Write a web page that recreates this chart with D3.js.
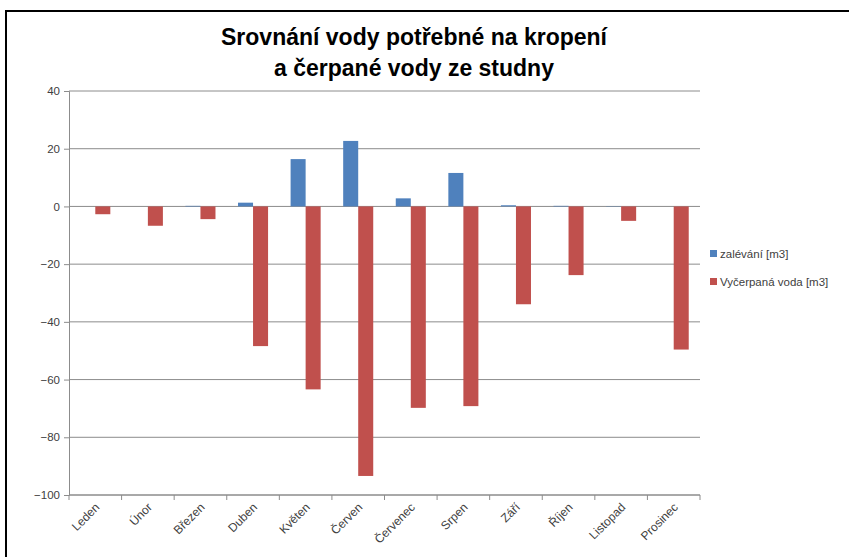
<!DOCTYPE html>
<html>
<head>
<meta charset="utf-8">
<script src="https://cdn.jsdelivr.net/npm/d3@7"></script>
<style>
  body { margin: 0; background: #fff; }
  svg { display: block; font-family: "Liberation Sans", Arial, sans-serif; }
</style>
</head>
<body>
<div id="chart"></div>
<script>
// Data
const months = ["Leden", "Únor", "Březen", "Duben", "Květen", "Červen",
  "Červenec", "Srpen", "Září", "Říjen", "Listopad", "Prosinec"];
const watering = [0, 0, 0.2, 1.3, 16.4, 22.7, 2.8, 11.6, 0.4, 0.2, 0.1, 0];
const pumped = [-2.7, -6.7, -4.4, -48.4, -63.4, -93.4, -69.8, -69.2, -33.9, -23.8, -5.0, -49.6];
const seriesNames = ["zalévání [m3]", "Vyčerpaná voda [m3]"];
const colors = ["#4F81BD", "#C0504D"];
const yTicks = [40, 20, 0, -20, -40, -60, -80, -100];

const W = 849, H = 557;
const margin = { top: 91, right: 149, bottom: 62, left: 69 };
const width = W - margin.left - margin.right;
const height = H - margin.top - margin.bottom;

const svg = d3.select("#chart").append("svg")
  .attr("width", W).attr("height", H);

// outer frame
svg.append("rect")
  .attr("x", 6).attr("y", 11)
  .attr("width", 900).attr("height", 600)
  .attr("fill", "none").attr("stroke", "#000").attr("stroke-width", 2);

// title
const title = svg.append("text")
  .attr("text-anchor", "middle")
  .attr("font-size", 23).attr("font-weight", "bold")
  .attr("fill", "#000");
title.append("tspan").attr("x", 414).attr("y", 45).text("Srovnání vody potřebné na kropení");
title.append("tspan").attr("x", 414).attr("y", 76).text("a čerpané vody ze studny");

const g = svg.append("g").attr("transform", `translate(${margin.left},${margin.top})`);

const x0 = d3.scaleBand().domain(months).range([0, width])
  .paddingInner(1.5 / 3.5).paddingOuter(0.75 / 3.5);
const x1 = d3.scaleBand().domain([0, 1]).range([0, x0.bandwidth()]);
const y = d3.scaleLinear().domain([-100, 40]).range([height, 0]);

// gridlines
g.append("g").selectAll("line").data(yTicks).join("line")
  .attr("x1", 0).attr("x2", width)
  .attr("y1", d => y(d)).attr("y2", d => y(d))
  .attr("stroke", "#8c8c8c").attr("stroke-width", 1);

// y axis
const yAxis = g.append("g")
  .call(d3.axisLeft(y).tickValues(yTicks).tickSize(5).tickPadding(4));
yAxis.select(".domain").attr("stroke", "#8c8c8c");
yAxis.selectAll(".tick line").attr("stroke", "#8c8c8c");
yAxis.selectAll("text").attr("font-size", 11.5).attr("fill", "#404040");

// bars
const rows = months.map((m, i) => ({ m, vals: [watering[i], pumped[i]] }));
g.append("g").selectAll("g").data(rows).join("g")
  .attr("transform", d => `translate(${x0(d.m)},0)`)
  .selectAll("rect").data(d => d.vals.map((v, k) => ({ v, k }))).join("rect")
  .attr("x", d => x1(d.k))
  .attr("width", x1.bandwidth())
  .attr("y", d => y(Math.max(0, d.v)))
  .attr("height", d => Math.abs(y(d.v) - y(0)))
  .attr("fill", d => colors[d.k]);

// x axis at bottom with ticks at category boundaries
const xg = g.append("g").attr("transform", `translate(0,${height})`);
xg.append("line").attr("x1", 0).attr("x2", width)
  .attr("stroke", "#8c8c8c");
const step = x0.step();
xg.selectAll("line.tk").data(d3.range(months.length + 1)).join("line")
  .attr("class", "tk")
  .attr("x1", i => i * step).attr("x2", i => i * step)
  .attr("y1", 0).attr("y2", 5)
  .attr("stroke", "#8c8c8c");
xg.selectAll("text").data(months).join("text")
  .attr("text-anchor", "end")
  .attr("font-size", 12).attr("fill", "#404040")
  .attr("transform", d => `translate(${x0(d) + x0.bandwidth() / 2 + 5},${13}) rotate(-45)`)
  .text(d => d);

// legend
const legend = svg.append("g").attr("transform", "translate(710,246)");
seriesNames.forEach((name, k) => {
  const row = legend.append("g").attr("transform", `translate(0,${k * 28})`);
  row.append("rect").attr("x", 0).attr("y", 4).attr("width", 7).attr("height", 7)
    .attr("fill", colors[k]);
  row.append("text").attr("x", 10).attr("y", 12)
    .attr("font-size", 11.5).attr("fill", "#404040").text(name);
});
</script>
</body>
</html>
